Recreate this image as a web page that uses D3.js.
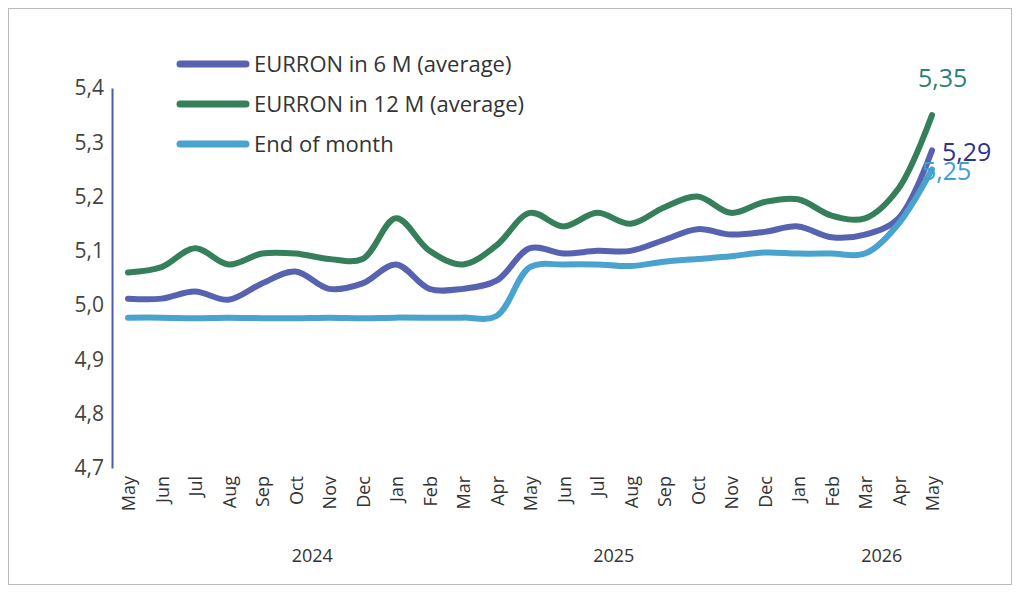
<!DOCTYPE html>
<html lang="en">
<head>
<meta charset="utf-8">
<script src="https://d3js.org/d3.v7.min.js"></script>
<style>body{margin:0;background:#fff}</style>
</head>
<body>
<script>
var w = 1020, h = 592;
var months = ["May","Jun","Jul","Aug","Sep","Oct","Nov","Dec","Jan","Feb","Mar","Apr",
              "May","Jun","Jul","Aug","Sep","Oct","Nov","Dec","Jan","Feb","Mar","Apr","May"];
var series = [
  {name:"EURRON in 6 M (average)", color:"#5763b0", label:"5,29", labelColor:"#2e3190", dx:10, dy:11,
   values:[5.012,5.012,5.025,5.01,5.04,5.062,5.03,5.04,5.075,5.03,5.03,5.045,5.105,5.095,5.10,5.10,5.12,5.14,5.13,5.135,5.145,5.125,5.13,5.16,5.285]},
  {name:"EURRON in 12 M (average)", color:"#35805a", label:"5,35", labelColor:"#2d7f7a", dx:-14, dy:-28,
   values:[5.06,5.07,5.105,5.075,5.095,5.095,5.085,5.085,5.16,5.10,5.075,5.11,5.17,5.145,5.17,5.15,5.18,5.20,5.17,5.19,5.195,5.165,5.16,5.215,5.35]},
  {name:"End of month", color:"#4aa3cf", label:"5,25", labelColor:"#3fa0d0", dx:-10, dy:11,
   values:[4.977,4.977,4.976,4.977,4.976,4.976,4.977,4.976,4.977,4.977,4.977,4.98,5.07,5.075,5.075,5.072,5.08,5.085,5.09,5.097,5.095,5.095,5.095,5.15,5.25]}
];

var svg = d3.select("body").append("svg").attr("width", w).attr("height", h);
svg.append("rect").attr("x",8.5).attr("y",8.5).attr("width",1003).attr("height",576)
   .attr("fill","none").attr("stroke","#bbb");

var x = d3.scaleLinear().domain([0,24]).range([128,932]);
var y = d3.scaleLinear().domain([4.7,5.4]).range([468,88]);

var yAxis = svg.append("g").attr("transform","translate(112,0)")
   .call(d3.axisLeft(y).tickValues(d3.range(4.7,5.41,0.1)).tickSize(0).tickPadding(8)
   .tickFormat(function(d){ return d3.format(".1f")(d).replace(".",","); }));
yAxis.select(".domain").attr("stroke","#4a5bb0").attr("stroke-width",2);
yAxis.selectAll("text").attr("font-family","'Open Sans', sans-serif")
   .attr("font-size",21).attr("fill","#444");

svg.selectAll(".month").data(months).enter().append("text")
   .attr("transform", function(d,i){ return "translate(" + (x(i)+7) + ",476) rotate(-90)"; })
   .attr("text-anchor","end").attr("font-family","'Open Sans', sans-serif")
   .attr("font-size",18).attr("fill","#333").text(function(d){ return d; });

[["2024",5.5],["2025",14.5],["2026",22.5]].forEach(function(t){
  svg.append("text").attr("x",x(t[1])).attr("y",562).attr("text-anchor","middle")
     .attr("font-family","'Open Sans', sans-serif").attr("font-size",18).attr("fill","#333").text(t[0]);
});

var line = d3.line().x(function(d,i){ return x(i); }).y(function(d){ return y(d); })
   .curve(d3.curveCatmullRom);

series.forEach(function(s){
  svg.append("path").attr("d", line(s.values)).attr("fill","none")
     .attr("stroke", s.color).attr("stroke-width",6).attr("stroke-linecap","round");
});
series.forEach(function(s){
  svg.append("text").attr("x", x(24) + s.dx).attr("y", y(s.values[24]) + s.dy)
     .attr("font-family","'Open Sans', sans-serif").attr("font-size",25)
     .attr("fill", s.labelColor).text(s.label);
});

var leg = svg.selectAll(".leg").data(series).enter().append("g")
   .attr("transform", function(d,i){ return "translate(180," + (64 + i*40) + ")"; });
leg.append("line").attr("x1",0).attr("x2",66).attr("stroke",function(d){ return d.color; })
   .attr("stroke-width",7).attr("stroke-linecap","round");
leg.append("text").attr("x",74).attr("y",8).attr("font-family","'Open Sans', sans-serif")
   .attr("font-size",22).attr("fill","#333").text(function(d){ return d.name; });
</script>
</body>
</html>
